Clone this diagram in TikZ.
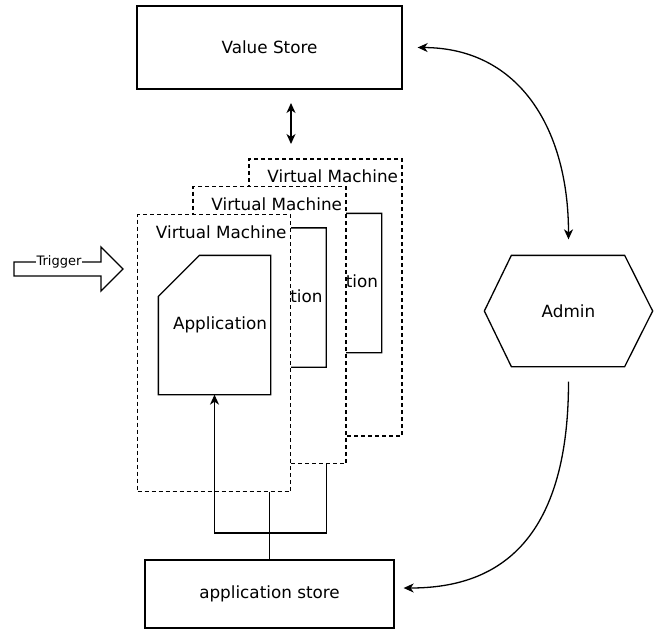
\documentclass[tikz,border=0pt]{standalone}
\usepackage{fontspec}
\setmainfont{DejaVu Sans}
\usetikzlibrary{arrows.meta}
\begin{document}
\begin{tikzpicture}[x=1pt,y=-1pt,
  line width=1.3pt,
  mainfont/.style={font=\fontsize{16.8}{20}\selectfont},
  box/.style={draw, inner sep=0pt, mainfont},
  vmbox/.style={draw, dash pattern=on 4pt off 3pt, fill=white, inner sep=0pt,
    minimum width=153pt, minimum height=277pt},
  vmlabel/.style={anchor=east, inner sep=0pt, mainfont},
  cardbox/.style={inner sep=0pt, mainfont, minimum width=111pt, minimum height=138pt},
  card/.style={draw, line join=miter},
  tipstyle/.style={-{Stealth[length=10pt,width=9pt,inset=3pt]}},
  dtip/.style={{Stealth[length=10pt,width=9pt,inset=3pt]}-{Stealth[length=10pt,width=9pt,inset=3pt]}}
]
\useasboundingbox (0,0) rectangle (655,632);

% Value store
\node[box, minimum width=265pt, minimum height=83pt] (vs) at (269.5,47.5) {Value Store};

% application store
\node[box, minimum width=249pt, minimum height=68pt] (as) at (269.5,594) {application store};

% Admin hexagon
\node[inner sep=0pt, mainfont, minimum width=167pt, minimum height=110pt] (admin) at (568.5,311) {Admin};
\draw[line join=miter] ([xshift=27pt]admin.north west) -- ([xshift=-28pt]admin.north east)
  -- (admin.east) -- ([xshift=-28pt]admin.south east) -- ([xshift=27pt]admin.south west)
  -- (admin.west) -- cycle;

% VM 3 (back)
\node[vmbox] (vm3) at (325.5,297.5) {};
\node[vmlabel] (vm3l) at ([xshift=-4pt,yshift=-18pt]vm3.north east) {Virtual Machine};
\node[cardbox] (app3) at (325.5,283) {\hspace*{11pt}Application};
\draw[card] ([xshift=41pt]app3.north west) -- (app3.north east) -- (app3.south east)
  -- (app3.south west) -- ([yshift=-41pt]app3.north west) -- cycle;

% VM 2
\node[vmbox] (vm2) at (269.5,325) {};
\node[vmlabel] (vm2l) at ([xshift=-4pt,yshift=-18pt]vm2.north east) {Virtual Machine};
\node[cardbox] (app2) at (270,297.5) {\hspace*{11pt}Application};
\draw[card] ([xshift=41pt]app2.north west) -- (app2.north east) -- (app2.south east)
  -- (app2.south west) -- ([yshift=-41pt]app2.north west) -- cycle;

% VM 1 (front)
\node[vmbox] (vm1) at (214,353) {};
\node[vmlabel] (vm1l) at ([xshift=-4pt,yshift=-18pt]vm1.north east) {Virtual Machine};
\node[cardbox] (app1) at (214.5,325) {\hspace*{11pt}Application};
\draw[card] ([xshift=41pt]app1.north west) -- (app1.north east) -- (app1.south east)
  -- (app1.south west) -- ([yshift=-41pt]app1.north west) -- cycle;

% connectors from application store
\coordinate (j) at (269.5,533);
\draw (as.north) -- (as.north |- vm1.south);
\draw[tipstyle] (j) -| (app1.south);
\draw (j) -| (app2.east |- vm2.south);

% double arrow between value store and VMs
\coordinate (da) at (291,103);
\coordinate (db) at (291,144);
\draw[dtip] (da) -- (db);

% curves with admin
\draw[dtip] ([xshift=15pt]vs.east) .. controls (520,48) and (568.5,130) .. ([yshift=16pt]admin.north);
\draw[tipstyle] ([yshift=-15pt]admin.south) .. controls (568.5,560) and (480,588) .. ([xshift=9pt,yshift=6pt]as.east);

% Trigger block arrow
\draw[line join=miter] (14,262) -- (101,262) -- (101,247) -- (123,269) -- (101,291)
  -- (101,276) -- (14,276) -- cycle;
\node[fill=white, inner sep=1pt, font=\fontsize{13}{15}\selectfont] (trig) at (59,262) {Trigger};
\end{tikzpicture}
\end{document}
